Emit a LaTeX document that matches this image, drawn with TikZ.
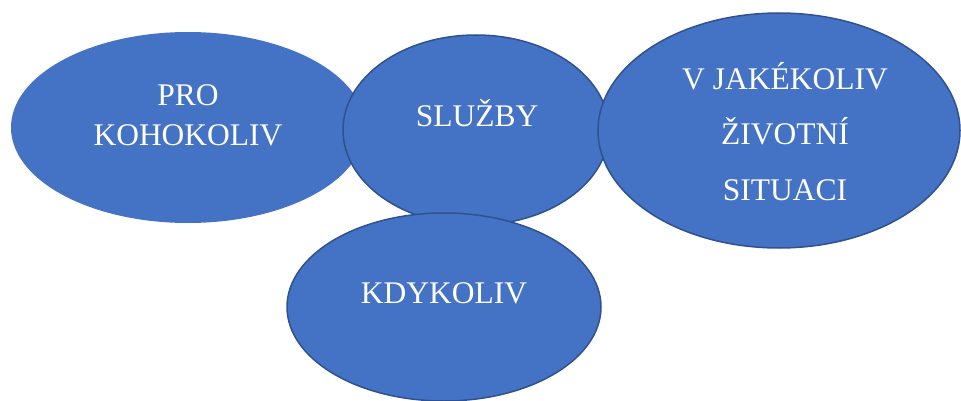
\documentclass[tikz,border=0pt]{standalone}
\usepackage{fontspec}
\setmainfont{Liberation Serif}
\usetikzlibrary{shapes.geometric}
\definecolor{fillblue}{HTML}{4472C4}
\definecolor{edgeblue}{HTML}{2F528F}

\begin{document}
\begin{tikzpicture}
	[x=1pt, y=-1pt,
	 bubble/.style={ellipse, fill=fillblue, draw=edgeblue, line width=1.5pt, inner sep=0pt},
	 caption/.style={text=white, inner sep=0pt, align=center, anchor=base,
	   font=\fontsize{31.5}{40}\selectfont}]
   \useasboundingbox (0,0) rectangle (961,401);
   \node[bubble, draw=none, minimum width=354pt, minimum height=191pt] (pro) at (188,127.5) {};
   \node[bubble, minimum width=266pt, minimum height=190pt] (sluzby) at (476,130) {};
   \node[bubble, minimum width=362pt, minimum height=235pt] (situace) at (779,130.5) {};
   \node[bubble, minimum width=314pt, minimum height=188pt] (kdykoliv) at (444,307) {};

   % texty
   \node[caption] (pro_t) at ([yshift=-18.5pt]pro.center) {PRO\\KOHOKOLIV};
   \node[caption] (sluzby_t) at ([yshift=3pt, xshift=1pt]sluzby.center) {SLUŽBY};
   \node[caption, font=\fontsize{31.5}{55.5}\selectfont] (situace_t) at ([yshift=-69.5pt, xshift=6pt]situace.center) {V JAKÉKOLIV\\ŽIVOTNÍ\\SITUACI};
   \node[caption] (kdykoliv_t) at ([yshift=4pt]kdykoliv.center) {KDYKOLIV};
\end{tikzpicture}
\end{document}
